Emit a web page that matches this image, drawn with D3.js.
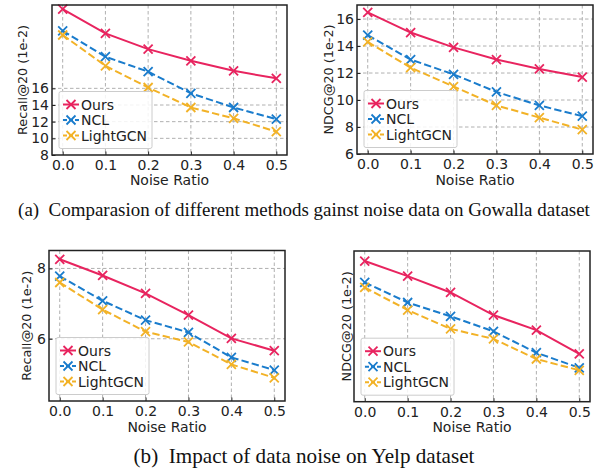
<!DOCTYPE html>
<html lang="en">
<head>
<meta charset="UTF-8">
<title>Noise robustness</title>
<script src="https://d3js.org/d3.v7.min.js"></script>
<style>
  body { margin: 0; background: #fff; }
  svg { display: block; }
</style>
</head>
<body>
<script>
// x values and tick labels shared by every panel
var noiseRatio = [0.0, 0.1, 0.2, 0.3, 0.4, 0.5];
var noiseLabels = ["0.0", "0.1", "0.2", "0.3", "0.4", "0.5"];
var methods = ["Ours", "NCL", "LightGCN"];

// Gowalla, Recall@20 (1e-2)
var gowallaRecallOurs = [25.5, 22.6, 20.7, 19.3, 18.1, 17.2];
var gowallaRecallNCL = [22.9, 19.8, 18.0, 15.4, 13.7, 12.3];
var gowallaRecallLightGCN = [22.4, 18.7, 16.1, 13.7, 12.4, 10.8];
var gowallaRecallTicks = [8, 10, 12, 14, 16];

// Gowalla, NDCG@20 (1e-2)
var gowallaNdcgOurs = [16.5, 15.0, 13.9, 13.0, 12.3, 11.7];
var gowallaNdcgNCL = [14.8, 13.0, 11.9, 10.6, 9.6, 8.8];
var gowallaNdcgLightGCN = [14.3, 12.4, 11.0, 9.6, 8.7, 7.8];
var gowallaNdcgTicks = [6, 8, 10, 12, 14, 16];

// Yelp, Recall@20 (1e-2)
var yelpRecallOurs = [8.26, 7.80, 7.29, 6.67, 6.01, 5.66];
var yelpRecallNCL = [7.78, 7.08, 6.53, 6.18, 5.47, 5.11];
var yelpRecallLightGCN = [7.60, 6.83, 6.20, 5.91, 5.27, 4.89];
var yelpRecallTicks = [6, 8];

// Yelp, NDCG@20 (1e-2) - the figure shows no tick labels here, values estimated
var yelpNdcgOurs = [4.72, 4.60, 4.47, 4.29, 4.17, 3.98];
var yelpNdcgNCL = [4.55, 4.39, 4.28, 4.16, 3.99, 3.87];
var yelpNdcgLightGCN = [4.51, 4.33, 4.18, 4.10, 3.94, 3.85];
var yelpNdcgTicks = [];

var colors = {"Ours": "#e8245f", "NCL": "#1a7ccc", "LightGCN": "#f2b227"};
var dashes = {"Ours": null, "NCL": "7.4,3.2", "LightGCN": "7.4,3.2"};

var W = 609, H = 472;
var svg = d3.select("body").append("svg")
  .attr("width", W)
  .attr("height", H);

var panels = [
  {left: 52, right: 287, top: 5, bottom: 155, yDomain: [8, 26], ticks: gowallaRecallTicks,
   ylabel: "Recall@20 (1e-2)", ylabelX: 23, xlabelY: 184.5, tickPad: 5,
   series: [gowallaRecallOurs, gowallaRecallNCL, gowallaRecallLightGCN]},
  {left: 357, right: 593, top: 5, bottom: 154, yDomain: [6, 17.04], ticks: gowallaNdcgTicks,
   ylabel: "NDCG@20 (1e-2)", ylabelX: 329, xlabelY: 184.5, tickPad: 5,
   series: [gowallaNdcgOurs, gowallaNdcgNCL, gowallaNdcgLightGCN]},
  {left: 49, right: 285, top: 250.5, bottom: 401, yDomain: [4.23, 8.51], ticks: yelpRecallTicks,
   ylabel: "Recall@20 (1e-2)", ylabelX: 27, xlabelY: 431.5, tickPad: 5,
   series: [yelpRecallOurs, yelpRecallNCL, yelpRecallLightGCN]},
  {left: 354, right: 590, top: 251, bottom: 401.7, yDomain: [3.6, 4.8], ticks: yelpNdcgTicks,
   ylabel: "NDCG@20 (1e-2)", ylabelX: 347, xlabelY: 432, tickPad: 5,
   series: [yelpNdcgOurs, yelpNdcgNCL, yelpNdcgLightGCN]}
];

var font = "'DejaVu Sans', sans-serif";
var fs = 14;       // ticks, x label, legend
var fsY = 12.8;    // rotated y label

function drawPanel(p) {
  var x = d3.scaleLinear().domain([-0.025, 0.525]).range([p.left, p.right]);
  var y = d3.scaleLinear().domain(p.yDomain).range([p.bottom, p.top]);
  var g = svg.append("g");

  // grid
  g.selectAll(".vgrid").data(noiseRatio).enter().append("line")
    .attr("x1", function(d) { return x(d); })
    .attr("x2", function(d) { return x(d); })
    .attr("y1", p.top).attr("y2", p.bottom)
    .attr("stroke", "#b0b0b0").attr("stroke-width", 1)
    .attr("stroke-dasharray", "3.5,2.5");
  g.selectAll(".hgrid").data(p.ticks.filter(function(t) { return y(t) < p.bottom - 1; }))
    .enter().append("line")
    .attr("x1", p.left).attr("x2", p.right)
    .attr("y1", function(d) { return y(d); })
    .attr("y2", function(d) { return y(d); })
    .attr("stroke", "#b0b0b0").attr("stroke-width", 1)
    .attr("stroke-dasharray", "3.5,2.5");

  // lines + markers
  var line = d3.line()
    .x(function(d, i) { return x(noiseRatio[i]); })
    .y(function(d) { return y(d); });

  p.series.forEach(function(vals, k) {
    var m = methods[k];
    g.append("path")
      .attr("d", line(vals))
      .attr("fill", "none")
      .attr("stroke", colors[m])
      .attr("stroke-width", 2)
      .attr("stroke-dasharray", dashes[m]);
    g.selectAll(".mk" + k).data(vals).enter().append("path")
      .attr("transform", function(d, i) { return "translate(" + x(noiseRatio[i]) + "," + y(d) + ")"; })
      .attr("d", "M-4.5,-4.5L4.5,4.5M-4.5,4.5L4.5,-4.5")
      .attr("stroke", colors[m])
      .attr("stroke-width", 1.8);
  });

  // axes (ticks point inward)
  var xAxis = d3.axisBottom(x)
    .tickValues(noiseRatio)
    .tickFormat(function(d, i) { return noiseLabels[i]; })
    .tickSizeInner(-3.5).tickSizeOuter(0).tickPadding(p.tickPad);
  var gx = g.append("g")
    .attr("transform", "translate(0," + p.bottom + ")")
    .call(xAxis);

  var yAxis = d3.axisLeft(y)
    .tickValues(p.ticks)
    .tickFormat(d3.format("d"))
    .tickSizeInner(-3.5).tickSizeOuter(0).tickPadding(3);
  var gy = g.append("g")
    .attr("transform", "translate(" + p.left + ",0)")
    .call(yAxis);

  [gx, gy].forEach(function(a) {
    a.select(".domain").remove();
    a.attr("font-family", font).attr("font-size", fs);
    a.selectAll("line").attr("stroke", "#222").attr("stroke-width", 1);
    a.selectAll("text").attr("fill", "#222");
  });

  // frame
  g.append("rect")
    .attr("x", p.left).attr("y", p.top)
    .attr("width", p.right - p.left).attr("height", p.bottom - p.top)
    .attr("fill", "none").attr("stroke", "#222").attr("stroke-width", 1.5);

  // axis labels
  g.append("text")
    .attr("x", (p.left + p.right) / 2).attr("y", p.xlabelY)
    .attr("text-anchor", "middle")
    .attr("font-family", font).attr("font-size", fs).attr("fill", "#222")
    .text("Noise Ratio");
  g.append("text")
    .attr("transform", "translate(" + p.ylabelX + "," + (p.top + p.bottom) / 2 + ") rotate(-90)")
    .attr("dy", "0.35em")
    .attr("text-anchor", "middle")
    .attr("font-family", font).attr("font-size", fsY).attr("fill", "#222")
    .text(p.ylabel);

  // legend
  var lx = p.left + 7, lh = 57, lw = 93, ly = p.bottom - 6.5 - lh;
  var lg = g.append("g").attr("transform", "translate(" + lx + "," + ly + ")");
  lg.append("rect")
    .attr("width", lw).attr("height", lh).attr("rx", 2)
    .attr("fill", "#fff").attr("fill-opacity", 0.85)
    .attr("stroke", "#cccccc").attr("stroke-width", 1);
  methods.forEach(function(m, k) {
    var ry = 13 + k * 15.5;
    lg.append("line")
      .attr("x1", 4).attr("x2", 20).attr("y1", ry).attr("y2", ry)
      .attr("stroke", colors[m]).attr("stroke-width", 2)
      .attr("stroke-dasharray", dashes[m] ? "4,2" : null);
    lg.append("path")
      .attr("transform", "translate(12," + ry + ")")
      .attr("d", "M-4.5,-4.5L4.5,4.5M-4.5,4.5L4.5,-4.5")
      .attr("stroke", colors[m]).attr("stroke-width", 1.8);
    lg.append("text")
      .attr("x", 22).attr("y", ry).attr("dy", "0.36em")
      .attr("font-family", font).attr("font-size", fs).attr("fill", "#222")
      .text(m);
  });
}

panels.forEach(drawPanel);

// sub captions, fitted to the width they take in the figure
var captions = [
  {text: "(a)\u00a0\u00a0Comparasion of different methods gainst noise data on Gowalla dataset", cx: 304, y: 216, width: 572},
  {text: "(b)\u00a0\u00a0Impact of data noise on Yelp dataset", cx: 304, y: 463, width: 341}
];
captions.forEach(function(c) {
  var t = svg.append("text")
    .attr("x", c.cx).attr("y", c.y)
    .attr("text-anchor", "middle")
    .attr("font-family", "'Liberation Serif', 'Times New Roman', serif")
    .attr("font-size", 15)
    .attr("fill", "#111")
    .text(c.text);
  var len = t.node().getComputedTextLength();
  t.attr("font-size", 15 * c.width / len);
});
</script>
</body>
</html>
